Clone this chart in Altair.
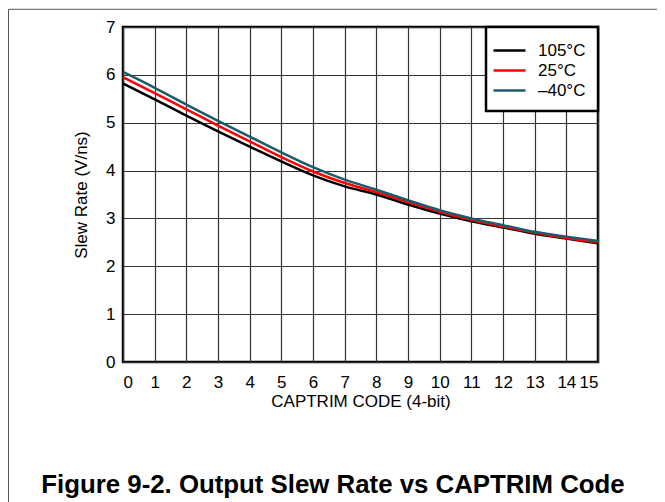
import altair as alt
import pandas as pd

codes = list(range(16))
t105 = [5.82, 5.49, 5.15, 4.82, 4.50, 4.19, 3.90, 3.67, 3.50, 3.29, 3.10, 2.94, 2.81, 2.68, 2.58, 2.48]
t25 = [5.95, 5.62, 5.28, 4.94, 4.61, 4.28, 3.98, 3.74, 3.55, 3.34, 3.14, 2.97, 2.83, 2.70, 2.59, 2.50]
tm40 = [6.06, 5.73, 5.38, 5.04, 4.71, 4.38, 4.07, 3.81, 3.60, 3.38, 3.17, 3.00, 2.86, 2.72, 2.62, 2.53]
series_names = ["105°C", "25°C", "–40°C"]
series_colors = ["#000000", "#ff0000", "#1d5b6b"]
x_ticks = list(range(16))
y_ticks = list(range(8))
figure_title = "Figure 9-2. Output Slew Rate vs CAPTRIM Code"

rows = []
for name, vals in zip(series_names, [t105, t25, tm40]):
    for c, v in zip(codes, vals):
        rows.append({"code": c, "rate": v, "series": name})
df = pd.DataFrame(rows)

FONT = "Liberation Sans"

lines = alt.Chart(df).mark_line(strokeWidth=2.5, interpolate="monotone").encode(
    x=alt.X("code:Q", scale=alt.Scale(domain=[0, 15], nice=False),
            axis=alt.Axis(values=x_ticks, title="CAPTRIM CODE (4-bit)", grid=True,
                          ticks=False, domain=False, labelPadding=12, titlePadding=3,
                          format="d")),
    y=alt.Y("rate:Q", scale=alt.Scale(domain=[0, 7], nice=False),
            axis=alt.Axis(values=y_ticks, title="Slew Rate (V/ns)", grid=True,
                          ticks=False, domain=False, labelPadding=8, titlePadding=15,
                          format="d")),
    color=alt.Color("series:N",
                    scale=alt.Scale(domain=series_names, range=series_colors),
                    sort=series_names,
                    legend=alt.Legend(title=None, orient="top-right", offset=0,
                                      symbolType="M-1.6,0H1.6", symbolSize=400,
                                      symbolStrokeWidth=2.5, labelOffset=17,
                                      padding=12, rowPadding=0,
                                      labelFontSize=17, labelFont=FONT,
                                      labelColor="black",
                                      strokeColor="black", fillColor="white")),
    order=alt.Order("series:N"),
)

frame_left = alt.Chart(alt.Data(values=[{}])).mark_rule(color="#555555", strokeWidth=1).encode(
    x=alt.value(-114.5), y=alt.value(-17.7), y2=alt.value(480)
)
frame_top = alt.Chart(alt.Data(values=[{}])).mark_rule(color="#555555", strokeWidth=1).encode(
    x=alt.value(-114.5), x2=alt.value(539), y=alt.value(-17.7)
)
title_text = alt.Chart(alt.Data(values=[{"t": figure_title}])).mark_text(
    font=FONT, fontSize=25.8, fontWeight="bold", color="black",
    align="center", baseline="alphabetic"
).encode(text="t:N", x=alt.value(210), y=alt.value(465.5))

chart = alt.layer(frame_left, frame_top, lines, title_text).properties(
    width=475, height=335,
    padding={"left": 115, "top": 19, "right": 59, "bottom": 140},
    autosize=alt.AutoSizeParams(type="none"),
).configure_view(
    stroke="black", strokeWidth=2.5
).configure_axis(
    gridColor="#333333", gridWidth=1.2, gridOpacity=1,
    labelFont=FONT, labelFontSize=17, labelColor="black",
    titleFont=FONT, titleFontSize=17, titleFontWeight="normal", titleColor="black",
).configure_legend(
    strokeWidth=2.5
)

chart.save("out.html", embed_options={"renderer": "svg", "actions": False})
